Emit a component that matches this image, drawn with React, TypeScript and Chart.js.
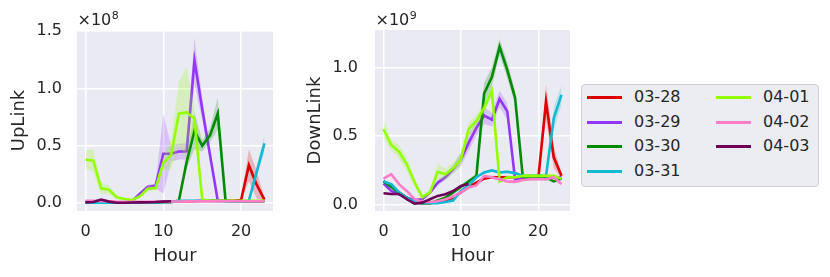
import React, { useEffect, useRef } from "react";
import { Chart, registerables } from "chart.js";
Chart.register(...registerables);

// ---------- data ----------
const hours = [0, 1, 2, 3, 4, 5, 6, 7, 8, 9, 10, 11, 12, 13, 14, 15, 16, 17, 18, 19, 20, 21, 22, 23];
const dates = ["03-28", "03-29", "03-30", "03-31", "04-01", "04-02", "04-03"];
const colors = ["#dc0000", "#9336fb", "#008a00", "#13b9d2", "#93ff00", "#ff7ec8", "#6e0058"];
const xTicks = [0, 10, 20];
const upTicks = [0, 0.5, 1.0, 1.5];
const downTicks = [0, 0.5, 1.0];

// UpLink (x 1e8)
const up0328 = [0.01, 0.01, 0.01, 0.01, 0.005, 0.005, 0.005, 0.005, 0.005, 0.005, 0.01, 0.01, 0.015, 0.015, 0.015, 0.02, 0.02, 0.02, 0.02, 0.02, 0.025, 0.33, 0.16, 0.03];
const up0329 = [0.005, 0.005, 0.01, 0.005, 0.003, 0.003, 0.02, 0.08, 0.14, 0.15, 0.43, 0.43, 0.45, 0.45, 1.245, 0.82, 0.42, 0.02, 0.015, 0.015, 0.015, 0.015, 0.015, 0.015];
const up0330 = [0.005, 0.005, 0.005, 0.003, 0.002, 0.002, 0.002, 0.003, 0.005, 0.005, 0.008, 0.01, 0.02, 0.36, 0.63, 0.5, 0.59, 0.78, 0.02, 0.015, 0.015, 0.015, 0.015, 0.015];
const up0331 = [0.002, 0.002, 0.003, 0.003, 0.002, 0.002, 0.002, 0.003, 0.004, 0.005, 0.006, 0.008, 0.02, 0.02, 0.02, 0.02, 0.018, 0.016, 0.015, 0.015, 0.015, 0.02, 0.27, 0.52];
const up0401 = [0.38, 0.37, 0.128, 0.116, 0.05, 0.035, 0.026, 0.06, 0.125, 0.13, 0.35, 0.42, 0.78, 0.79, 0.735, 0.03, 0.02, 0.02, 0.02, 0.02, 0.02, 0.02, 0.02, 0.02];
const up0402 = [0.02, 0.02, 0.018, 0.015, 0.01, 0.01, 0.01, 0.01, 0.01, 0.012, 0.012, 0.013, 0.013, 0.014, 0.014, 0.014, 0.014, 0.014, 0.015, 0.015, 0.015, 0.015, 0.015, 0.015];
const up0403 = [0.005, 0.008, 0.03, 0.012, 0.002, 0.002, 0.004, 0.005, 0.006, 0.008, 0.012, 0.015];

const upErr0328 = [0, 0, 0, 0, 0, 0, 0, 0, 0, 0, 0, 0, 0, 0, 0, 0, 0, 0, 0, 0, 0.01, 0.14, 0.12, 0.015];
const upErr0329 = [0.002, 0.002, 0.005, 0.002, 0.002, 0.002, 0.01, 0.02, 0.02, 0.02, 0.35, 0.07, 0.07, 0.07, 0.2, 0.1, 0.06, 0.01, 0, 0, 0, 0, 0, 0];
const upErr0330 = [0, 0, 0, 0, 0, 0, 0, 0, 0, 0, 0, 0, 0.01, 0.06, 0.16, 0.05, 0.06, 0.14, 0.01, 0, 0, 0, 0, 0];
const upErr0331 = [0, 0, 0, 0, 0, 0, 0, 0, 0, 0, 0, 0, 0, 0, 0, 0, 0, 0, 0, 0, 0, 0.01, 0.05, 0.07];
const upErr0401 = [0.08, 0.1, 0.05, 0.04, 0.015, 0.01, 0.008, 0.015, 0.02, 0.02, 0.06, 0.13, 0.28, 0.4, 0.08, 0.01, 0, 0, 0, 0, 0, 0, 0, 0];
const upErr0402 = [0.003, 0.003, 0.003, 0.003, 0.003, 0.003, 0.003, 0.003, 0.003, 0.003, 0.003, 0.003, 0.003, 0.003, 0.003, 0.003, 0.003, 0.003, 0.003, 0.003, 0.003, 0.003, 0.003, 0.003];
const upErr0403 = [0.004, 0.004, 0.006, 0.004, 0.002, 0.002, 0.002, 0.002, 0.002, 0.003, 0.003, 0.003];

// DownLink (x 1e9)
const dn0328 = [0.17, 0.14, 0.09, 0.05, 0.02, 0.01, 0.01, 0.02, 0.03, 0.05, 0.09, 0.13, 0.16, 0.19, 0.2, 0.2, 0.2, 0.2, 0.19, 0.19, 0.19, 0.75, 0.345, 0.21];
const dn0329 = [0.154, 0.1, 0.076, 0.05, 0.034, 0.04, 0.088, 0.16, 0.2, 0.26, 0.33, 0.45, 0.56, 0.65, 0.62, 0.77, 0.68, 0.185, 0.2, 0.2, 0.21, 0.2, 0.2, 0.2];
const dn0330 = [0.17, 0.13, 0.088, 0.05, 0.015, 0.01, 0.01, 0.03, 0.05, 0.09, 0.13, 0.17, 0.21, 0.81, 0.93, 1.15, 0.98, 0.78, 0.2, 0.19, 0.19, 0.2, 0.17, 0.19];
const dn0331 = [0.17, 0.15, 0.09, 0.05, 0.02, 0.01, 0.01, 0.01, 0.02, 0.03, 0.1, 0.14, 0.2, 0.235, 0.25, 0.235, 0.24, 0.23, 0.21, 0.21, 0.21, 0.21, 0.63, 0.8];
const dn0401 = [0.55, 0.435, 0.386, 0.296, 0.165, 0.055, 0.09, 0.24, 0.222, 0.265, 0.33, 0.55, 0.61, 0.705, 0.83, 0.17, 0.2, 0.2, 0.21, 0.21, 0.21, 0.21, 0.21, 0.19];
const dn0402 = [0.19, 0.222, 0.15, 0.1, 0.04, 0.02, 0.02, 0.025, 0.04, 0.06, 0.09, 0.125, 0.14, 0.21, 0.2, 0.185, 0.17, 0.166, 0.18, 0.185, 0.185, 0.185, 0.2, 0.15];
const dn0403 = [0.083, 0.078, 0.078, 0.04, 0.007, 0.015, 0.04, 0.064, 0.076, 0.1, 0.137, 0.15];

const dnErr0328 = [0.01, 0.01, 0.01, 0.01, 0.005, 0.005, 0.005, 0.005, 0.005, 0.005, 0.01, 0.01, 0.01, 0.01, 0.01, 0.01, 0.01, 0.01, 0.01, 0.01, 0.01, 0.13, 0.08, 0.02];
const dnErr0329 = [0.01, 0.01, 0.01, 0.01, 0.005, 0.005, 0.01, 0.02, 0.02, 0.03, 0.05, 0.06, 0.06, 0.06, 0.05, 0.06, 0.06, 0.02, 0.01, 0.01, 0.01, 0.01, 0.01, 0.01];
const dnErr0330 = [0.01, 0.01, 0.01, 0.01, 0.005, 0.005, 0.005, 0.005, 0.01, 0.01, 0.01, 0.01, 0.01, 0.08, 0.07, 0.06, 0.06, 0.05, 0.01, 0.01, 0.01, 0.01, 0.01, 0.01];
const dnErr0331 = [0.01, 0.01, 0.01, 0.01, 0.005, 0.005, 0.005, 0.005, 0.005, 0.01, 0.01, 0.01, 0.01, 0.01, 0.01, 0.01, 0.01, 0.01, 0.01, 0.01, 0.01, 0.01, 0.08, 0.07];
const dnErr0401 = [0.07, 0.04, 0.05, 0.05, 0.03, 0.02, 0.02, 0.06, 0.04, 0.04, 0.05, 0.05, 0.04, 0.04, 0.03, 0.01, 0.01, 0.01, 0.01, 0.01, 0.01, 0.01, 0.01, 0.01];
const dnErr0402 = [0.01, 0.01, 0.01, 0.01, 0.005, 0.005, 0.005, 0.005, 0.005, 0.01, 0.01, 0.01, 0.01, 0.01, 0.01, 0.01, 0.01, 0.01, 0.01, 0.01, 0.01, 0.01, 0.01, 0.02];
const dnErr0403 = [0.005, 0.005, 0.005, 0.005, 0.004, 0.004, 0.005, 0.005, 0.005, 0.006, 0.006, 0.006];

const upSeries = [up0328, up0329, up0330, up0331, up0401, up0402, up0403];
const upErrs = [upErr0328, upErr0329, upErr0330, upErr0331, upErr0401, upErr0402, upErr0403];
const dnSeries = [dn0328, dn0329, dn0330, dn0331, dn0401, dn0402, dn0403];
const dnErrs = [dnErr0328, dnErr0329, dnErr0330, dnErr0331, dnErr0401, dnErr0402, dnErr0403];

// ---------- helpers ----------
const FONT = "DejaVu Sans";
const TEXT = "#262626";

function hexAlpha(hex: string, a: number) {
  const r = parseInt(hex.slice(1, 3), 16);
  const g = parseInt(hex.slice(3, 5), 16);
  const b = parseInt(hex.slice(5, 7), 16);
  return `rgba(${r},${g},${b},${a})`;
}

function buildDatasets(series: number[][], errs: number[][]) {
  const ds: any[] = [];
  series.forEach((vals, i) => {
    const e = errs[i];
    const base = 100 - i * 10;
    ds.push({
      label: dates[i] + " hi",
      data: vals.map((v, k) => ({ x: hours[k], y: v + e[k] })),
      borderWidth: 0,
      borderColor: "transparent",
      backgroundColor: hexAlpha(colors[i], 0.22),
      pointRadius: 0,
      fill: "+1",
      order: base,
    });
    ds.push({
      label: dates[i] + " lo",
      data: vals.map((v, k) => ({ x: hours[k], y: v - e[k] })),
      borderWidth: 0,
      borderColor: "transparent",
      pointRadius: 0,
      fill: false,
      order: base,
    });
    ds.push({
      label: dates[i],
      data: vals.map((v, k) => ({ x: hours[k], y: v })),
      borderWidth: 2.6,
      borderColor: colors[i],
      backgroundColor: colors[i],
      pointRadius: 0,
      fill: false,
      order: base - 1,
    });
  });
  return ds;
}

type PanelProps = {
  left: number;
  width: number;
  yAxisWidth: number;
  padRight: number;
  series: number[][];
  errs: number[][];
  yMin: number;
  yMax: number;
  yTicks: number[];
  yLabel: string;
  exponent: string;
  yTitlePad: number;
  yTickPad: number;
};

function Panel(p: PanelProps) {
  const ref = useRef<HTMLCanvasElement | null>(null);
  useEffect(() => {
    if (!ref.current) return;
    const bgPlugin = {
      id: "bg",
      beforeDraw(chart: any) {
        const { ctx, chartArea } = chart;
        ctx.save();
        ctx.fillStyle = "#eaeaf2";
        ctx.fillRect(chartArea.left, chartArea.top, chartArea.right - chartArea.left, chartArea.bottom - chartArea.top);
        ctx.restore();
      },
    };
    const offsetPlugin = {
      id: "offsetText",
      afterDraw(chart: any) {
        const { ctx, chartArea } = chart;
        ctx.save();
        ctx.fillStyle = TEXT;
        ctx.textBaseline = "alphabetic";
        ctx.textAlign = "left";
        ctx.font = `16px "${FONT}"`;
        const x0 = chartArea.left + 0.5;
        ctx.fillText("×10", x0, 25);
        const w = ctx.measureText("×10").width;
        ctx.font = `11px "${FONT}"`;
        ctx.fillText(p.exponent, x0 + w + 0.5, 19);
        ctx.restore();
      },
    };
    const chart = new Chart(ref.current, {
      type: "line",
      data: { datasets: buildDatasets(p.series, p.errs) },
      plugins: [bgPlugin, offsetPlugin],
      options: {
        animation: false,
        responsive: false,
        maintainAspectRatio: false,
        layout: { padding: { left: 0, right: p.padRight, top: 30, bottom: 0 } },
        elements: { line: { tension: 0 }, point: { radius: 0 } },
        plugins: {
          legend: { display: false },
          tooltip: { enabled: false },
          filler: { drawTime: "beforeDatasetDraw" },
        } as any,
        scales: {
          x: {
            type: "linear",
            min: -1.1,
            max: 24.1,
            afterBuildTicks: (s: any) => {
              s.ticks = xTicks.map((v) => ({ value: v }));
            },
            afterFit: (s: any) => {
              s.height = 66;
            },
            grid: { color: "#ffffff", lineWidth: 1.5, drawTicks: false },
            border: { display: false },
            ticks: {
              padding: 11,
              color: TEXT,
              font: { family: FONT, size: 16 },
              maxRotation: 0,
              autoSkip: false,
              callback: (v: any) => String(v),
            },
            title: {
              display: true,
              text: "Hour",
              color: TEXT,
              font: { family: FONT, size: 18 },
              padding: { top: 0, bottom: 10 },
            },
          },
          y: {
            type: "linear",
            min: p.yMin,
            max: p.yMax,
            afterBuildTicks: (s: any) => {
              s.ticks = p.yTicks.map((v) => ({ value: v }));
            },
            afterFit: (s: any) => {
              s.width = p.yAxisWidth;
            },
            grid: { color: "#ffffff", lineWidth: 1.5, drawTicks: false },
            border: { display: false },
            ticks: {
              padding: p.yTickPad,
              color: TEXT,
              font: { family: FONT, size: 16 },
              callback: (v: any) => Number(v).toFixed(1),
            },
            title: {
              display: true,
              text: p.yLabel,
              color: TEXT,
              font: { family: FONT, size: 18 },
              padding: { top: p.yTitlePad, bottom: 0 },
            },
          },
        },
      } as any,
    });
    return () => chart.destroy();
  }, []);
  return (
    <canvas
      ref={ref}
      width={p.width}
      height={277}
      style={{ position: "absolute", left: p.left, top: 0, width: p.width, height: 277 }}
    />
  );
}

function Legend() {
  const rowTop = 13;
  const rowGap = 24.6;
  return (
    <div
      style={{
        position: "absolute",
        left: 581,
        top: 84,
        width: 236,
        height: 101,
        border: "1px solid #d0d0d6",
        borderRadius: 4,
        background: "#ececf3",
      }}
    >
      {dates.map((d, i) => {
        const col = i < 4 ? 0 : 1;
        const row = i < 4 ? i : i - 4;
        const cy = Math.round(rowTop + row * rowGap - 1);
        const lineLeft = col === 0 ? 5 : 134;
        const textLeft = col === 0 ? 52 : 181;
        return (
          <React.Fragment key={d}>
            <div
              style={{
                position: "absolute",
                left: lineLeft,
                top: cy - 1,
                width: 35,
                height: 3,
                background: colors[i],
              }}
            />
            <div
              style={{
                position: "absolute",
                left: textLeft,
                top: cy - 10,
                height: 20,
                lineHeight: "20px",
                fontFamily: FONT,
                fontSize: 16,
                color: TEXT,
                whiteSpace: "nowrap",
              }}
            >
              {d}
            </div>
          </React.Fragment>
        );
      })}
    </div>
  );
}

export default function App() {
  return (
    <div style={{ position: "fixed", left: 0, top: 0, width: 830, height: 277, background: "#ffffff", overflow: "hidden" }}>
      <Panel
        left={0}
        width={290}
        yAxisWidth={77}
        padRight={17}
        series={upSeries}
        errs={upErrs}
        yMin={-0.07}
        yMax={1.51}
        yTicks={upTicks}
        yLabel="UpLink"
        exponent="8"
        yTitlePad={9}
        yTickPad={15}
      />
      <Panel
        left={290}
        width={290}
        yAxisWidth={85}
        padRight={10}
        series={dnSeries}
        errs={dnErrs}
        yMin={-0.046}
        yMax={1.273}
        yTicks={downTicks}
        yLabel="DownLink"
        exponent="9"
        yTitlePad={15}
        yTickPad={17}
      />
      <Legend />
    </div>
  );
}
